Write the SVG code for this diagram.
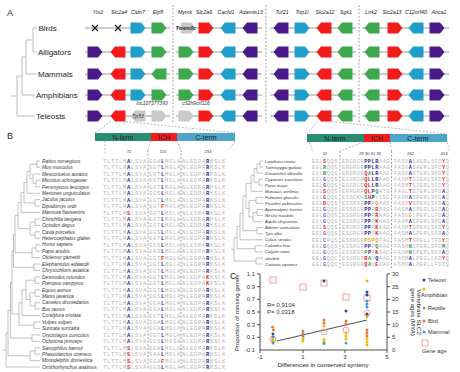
<svg xmlns="http://www.w3.org/2000/svg" width="460" height="372" viewBox="0 0 460 372">
<style>
text{font-family:"Liberation Sans",Arial,sans-serif}
.pl{font-size:9px;fill:#222}
.tx{font-size:8px;fill:#222}
.gl{font-size:5.3px;font-style:italic;fill:#222;text-anchor:middle}
.gi{font-size:5px;font-style:italic;fill:#333;text-anchor:middle}
.tr{fill:none;stroke:#bbb;stroke-width:1}
.tb{fill:none;stroke:#999;stroke-width:0.6}
.bl{stroke:#999;stroke-width:1}
.sep{stroke:#888;stroke-width:0.8;stroke-dasharray:2,1.6}
.dl{fill:none;stroke:#888;stroke-width:0.6;stroke-dasharray:2,1.5}
.pu{fill:#4a1a8a}.re{fill:#f21c1c}.cy{fill:#1e9ec8}.gr{fill:#3ea84e}.gy{fill:#c9c9c9}
.sp{font-size:4.8px;font-style:italic;fill:#333}
.spr{font-size:4.2px;font-style:italic;fill:#333}
.aln{font-family:"Liberation Mono",monospace;font-size:5.5px;letter-spacing:0.7px;fill:#b4b4b4}
.alr{font-family:"Liberation Mono",monospace;font-size:5.2px;letter-spacing:0.58px;fill:#b4b4b4}
.b{fill:#2a2a9a;font-weight:bold}.r{fill:#e41a1c;font-weight:bold}.g{fill:#2e9b3e;font-weight:bold}.o{fill:#f0a020;font-weight:bold}.p{fill:#7b5cc4;font-weight:bold}
.pos{font-size:4.2px;fill:#333;text-anchor:middle}
.dom{font-size:7px;fill:#222;text-anchor:middle}
.ax{stroke:#222;stroke-width:0.8;fill:none}
.tk{font-size:6px;fill:#333}
.at{font-size:6.2px;fill:#222;text-anchor:middle}
.lg{font-size:5.6px;fill:#333}
.sq{fill:none;stroke:#f08a8a;stroke-width:0.8}
.ci{fill:none;stroke:#f08a8a;stroke-width:0.8}
.dT{fill:#1f4e99}.dA{fill:#f5b800}.dR{fill:#9a9a9a}.dB{fill:#e8772e}.dM{fill:#3a9ad8}
</style>
<defs>
<path id="gR" d="M-7.5,-5.5H3L7.5,0L3,5.5H-7.5Z"/>
<path id="gL" d="M7.5,-5.5H-3L-7.5,0L-3,5.5H7.5Z"/>
<path id="gX" d="M-3,-3L3,3M-3,3L3,-3" stroke="#111" stroke-width="1.1" fill="none"/>
<circle id="dt" r="1.5"/>
</defs>
<rect width="460" height="372" fill="#fff"/>

<g id="panelA">
<text class="pl" x="7" y="16">A</text>
<g id="genelabels">
<text class="gl" x="98" y="13.5">Ytx2</text><text class="gl" x="119" y="13.5">Slc2a4</text><text class="gl" x="138" y="13.5">Cldn7</text><text class="gl" x="158" y="13.5">Elp5</text>
<text class="gl" x="185" y="13.5">Mymk</text><text class="gl" x="204" y="13.5">Slc2a6</text><text class="gl" x="226" y="13.5">Cacfd1</text><text class="gl" x="251" y="13.5">Adamts13</text>
<text class="gl" x="282" y="13.5">Tuf21</text><text class="gl" x="302" y="13.5">Top1l</text><text class="gl" x="325" y="13.5">Slc2a12</text><text class="gl" x="346" y="13.5">Sgk1</text>
<text class="gl" x="371" y="13.5">Lrrk2</text><text class="gl" x="392" y="13.5">Slc2a13</text><text class="gl" x="416" y="13.5">C12orf40</text><text class="gl" x="439" y="13.5">Abca2</text>
</g>
<g id="treeA">
<path class="tr" d="M37 28H33V52H37M33 40H26V74H37M26 57H22V95H35M22 76H17V116H35M11 96H17"/>
<text class="tx" x="38.5" y="31">Birds</text>
<text class="tx" x="38" y="55">Alligators</text>
<text class="tx" x="38" y="77">Mammals</text>
<text class="tx" x="36" y="98">Amphibians</text>
<text class="tx" x="36" y="119">Teleosts</text>
</g>
<g id="separators">
<line class="sep" x1="173" y1="5" x2="173" y2="124"/>
<line class="sep" x1="266" y1="5" x2="266" y2="124"/>
<line class="sep" x1="359" y1="5" x2="359" y2="124"/>
</g>
<g id="rowBirds">
<path class="bl" d="M85 28H170M176 28H262M270 28H356M362 28H449"/>
<use href="#gX" x="95" y="28"/><use href="#gX" x="118" y="28"/>
<use href="#gR" class="cy" x="138" y="28"/><use href="#gR" class="gr" x="159" y="28"/>
<use href="#gR" class="gy" x="188" y="28"/><text class="gi" x="186" y="30" font-weight="bold">Tmem8c</text>
<use href="#gR" class="re" x="206" y="28"/><use href="#gL" class="cy" x="228" y="28"/><use href="#gL" class="pu" x="250" y="28"/>
<use href="#gL" class="pu" x="281" y="28"/><use href="#gR" class="cy" x="302" y="28"/><use href="#gL" class="re" x="324" y="28"/><use href="#gL" class="gr" x="345" y="28"/>
<use href="#gL" class="gr" x="372" y="28"/><use href="#gR" class="re" x="395" y="28"/><use href="#gL" class="cy" x="416" y="28"/><use href="#gR" class="pu" x="437" y="28"/>
</g>
<g id="rowAlligators">
<path class="bl" d="M85 52H170M176 52H262M270 52H356M362 52H449"/>
<use href="#gR" class="pu" x="95" y="52"/><use href="#gL" class="re" x="118" y="52"/><use href="#gR" class="cy" x="138" y="52"/><use href="#gR" class="gr" x="159" y="52"/>
<use href="#gR" class="gr" x="186" y="52"/><use href="#gR" class="re" x="206" y="52"/><use href="#gL" class="cy" x="228" y="52"/><use href="#gL" class="pu" x="250" y="52"/>
<use href="#gL" class="pu" x="281" y="52"/><use href="#gR" class="cy" x="302" y="52"/><use href="#gL" class="re" x="324" y="52"/><use href="#gL" class="gr" x="345" y="52"/>
<use href="#gL" class="gr" x="372" y="52"/><use href="#gR" class="re" x="395" y="52"/><use href="#gL" class="cy" x="416" y="52"/><use href="#gR" class="pu" x="437" y="52"/>
</g>
<g id="rowMammals">
<path class="bl" d="M85 74H170M176 74H262M270 74H356M362 74H449"/>
<use href="#gR" class="pu" x="95" y="74"/><use href="#gL" class="re" x="118" y="74"/><use href="#gR" class="cy" x="138" y="74"/><use href="#gL" class="gr" x="159" y="74"/>
<use href="#gR" class="gr" x="186" y="74"/><use href="#gR" class="re" x="206" y="74"/><use href="#gL" class="cy" x="228" y="74"/><use href="#gL" class="pu" x="250" y="74"/>
<use href="#gL" class="pu" x="281" y="74"/><use href="#gR" class="cy" x="302" y="74"/><use href="#gL" class="re" x="324" y="74"/><use href="#gL" class="gr" x="345" y="74"/>
<use href="#gL" class="gr" x="372" y="74"/><use href="#gR" class="re" x="395" y="74"/><use href="#gL" class="cy" x="416" y="74"/><use href="#gR" class="pu" x="437" y="74"/>
</g>
<g id="rowAmphibians">
<path class="bl" d="M85 95H170M176 95H262M270 95H356M362 95H449"/>
<use href="#gR" class="pu" x="95" y="95"/><use href="#gL" class="re" x="118" y="95"/><use href="#gR" class="cy" x="138" y="95"/><use href="#gR" class="gr" x="159" y="95"/>
<use href="#gR" class="gr" x="186" y="95"/><use href="#gR" class="re" x="206" y="95"/><use href="#gL" class="cy" x="228" y="95"/><use href="#gL" class="pu" x="250" y="95"/>
<use href="#gL" class="pu" x="281" y="95"/><use href="#gR" class="cy" x="302" y="95"/><use href="#gL" class="re" x="324" y="95"/><use href="#gL" class="gr" x="345" y="95"/>
<use href="#gL" class="gr" x="372" y="95"/><use href="#gR" class="re" x="395" y="95"/><use href="#gL" class="cy" x="416" y="95"/><use href="#gR" class="pu" x="437" y="95"/>
</g>
<g id="rowTeleosts">
<path class="bl" d="M85 116H170M176 116H262M270 116H356M362 116H449"/>
<text class="gi" x="152" y="105">loc107377393</text>
<text class="gi" x="196" y="105">c32h9orf116</text>
<use href="#gR" class="pu" x="95" y="116"/><use href="#gL" class="re" x="118" y="116"/>
<use href="#gL" class="gy" x="138" y="116"/><text class="gi" x="138" y="118">Tp53</text>
<use href="#gR" class="gy" x="159" y="116"/>
<use href="#gR" class="gy" x="186" y="116"/><use href="#gR" class="re" x="206" y="116"/><use href="#gL" class="cy" x="228" y="116"/><use href="#gL" class="pu" x="250" y="116"/>
<use href="#gL" class="pu" x="281" y="116"/><use href="#gR" class="cy" x="302" y="116"/><use href="#gL" class="re" x="324" y="116"/><use href="#gL" class="gr" x="345" y="116"/>
<use href="#gL" class="gr" x="372" y="116"/><use href="#gR" class="re" x="395" y="116"/><use href="#gL" class="cy" x="416" y="116"/><use href="#gR" class="pu" x="437" y="116"/>
</g>
</g>

<g id="connectors">
<path class="dl" d="M111 121.5L95 133M126 121.5L235 133"/>
<path class="dl" d="M317 121.5L307 134M332 121.5L447 134"/>
<path class="dl" d="M105 141V153M151 141L148 150M177 141L181 150M235 141L229 150"/>
<path class="dl" d="M309 142L313 152M364 142L340 151M390 142L391.5 151M447 142L450 152"/>
<line class="sep" x1="148" y1="150" x2="148" y2="370"/>
<line class="sep" x1="181" y1="150" x2="181" y2="370"/>
<line class="sep" x1="340" y1="151" x2="340" y2="268"/>
<line class="sep" x1="391.5" y1="151" x2="391.5" y2="268"/>
</g>

<g id="panelB">
<text class="pl" x="7" y="139">B</text>
<g id="domainLeft">
<rect x="95" y="133" width="56" height="8" fill="#2a8f72"/>
<rect x="151" y="133" width="26" height="8" fill="#f21c1c"/>
<rect x="177" y="133" width="58" height="8" fill="#4da6c9"/>
<text class="dom" x="123" y="139.5">N-term</text><text class="dom" x="164" y="139.5">ICH</text><text class="dom" x="206" y="139.5">C-term</text>
</g>
<g id="domainRight">
<rect x="307" y="134" width="57" height="8" fill="#2a8f72"/>
<rect x="364" y="134" width="26" height="8" fill="#f21c1c"/>
<rect x="390" y="134" width="57" height="8" fill="#4da6c9"/>
<text class="dom" x="335" y="140.5">N-term</text><text class="dom" x="377" y="140.5">ICH</text><text class="dom" x="418" y="140.5">C-term</text>
</g>
<g id="positions">
<text class="pos" x="129" y="153">72</text><text class="pos" x="163" y="153">110</text><text class="pos" x="208" y="153">234</text>
<text class="pos" x="325" y="155">11</text><text class="pos" x="370" y="155" font-size="3.4">29 30 31 36</text><text class="pos" x="410.6" y="155">262</text><text class="pos" x="444" y="155">413</text>
</g>
<g id="treeMammals">
<path class="tb" d="M40 161H37V167.4H40M40 180.3H36V186.8H40M40 173.9H33V183.6H36M37 164.2H30V178.7H33M30 171.5H27V193.2H40M40 199.6H35V206.1H40M27 182.3H24V202.9H35M24 192.6H21V212.5H40M40 219H35V225.4H40M40 231.8H35V238.3H40M35 222.2H30V235H35M21 202.6H18V228.6H30M40 244.7H36V251.2H40M36 248H32V257.6H40M18 215.6H15V252.8H32M40 264H34V270.5H40M15 234.2H13.5V267.3H34M40 276.9H35V283.4H40M40 289.8H35V296.2H40M40 302.7H35V309.1H40M35 293H30V305.9H35M35 280.2H26V299.5H30M26 289.8H22V315.6H40M40 322H34V328.4H40M22 302.7H19V325.2H34M13.5 250.8H12V314H19M40 334.9H32V341.3H40M12 282.4H10.5V338.1H32M40 347.8H35V354.2H40M35 351H30V360.6H40M10.5 310.3H8V355.8H30M8 333H6V367H40M3 350H6"/>
</g>
<g id="namesMammals">
<text class="sp" x="42" y="162.7">Rattus norvegicus</text>
<text class="sp" x="42" y="169.1">Mus musculus</text>
<text class="sp" x="42" y="175.6">Mesocricetus auratus</text>
<text class="sp" x="42" y="182">Microtus ochrogaster</text>
<text class="sp" x="42" y="188.5">Peromyscus leucopus</text>
<text class="sp" x="42" y="194.9">Meriones unguiculatus</text>
<text class="sp" x="42" y="201.3">Jaculus jaculus</text>
<text class="sp" x="42" y="207.8">Dipodomys ordii</text>
<text class="sp" x="42" y="214.2">Marmota flaviventris</text>
<text class="sp" x="42" y="220.7">Chinchilla lanigera</text>
<text class="sp" x="42" y="227.1">Octodon degus</text>
<text class="sp" x="42" y="233.5">Cavia porcellus</text>
<text class="sp" x="42" y="240">Heterocephalus glaber</text>
<text class="sp" x="42" y="246.4">Homo sapiens</text>
<text class="sp" x="42" y="252.9">Papio anubis</text>
<text class="sp" x="42" y="259.3">Otolemur garnettii</text>
<text class="sp" x="42" y="265.7">Elephantulus edwardii</text>
<text class="sp" x="42" y="272.2">Chrysochloris asiatica</text>
<text class="sp" x="42" y="278.6">Desmodus rotundus</text>
<text class="sp" x="42" y="285.1">Pteropus vampyrus</text>
<text class="sp" x="42" y="291.5">Equus asinus</text>
<text class="sp" x="42" y="297.9">Manis javanica</text>
<text class="sp" x="42" y="304.4">Camelus dromedarius</text>
<text class="sp" x="42" y="310.8">Bos taurus</text>
<text class="sp" x="42" y="317.3">Condylura cristata</text>
<text class="sp" x="42" y="323.7">Vulpes vulpes</text>
<text class="sp" x="42" y="330.1">Suricata suricatta</text>
<text class="sp" x="42" y="336.6">Oryctolagus cuniculus</text>
<text class="sp" x="42" y="343">Ochotona princeps</text>
<text class="sp" x="42" y="349.5">Sarcophilus harrisii</text>
<text class="sp" x="42" y="355.9">Phascolarctos cinereus</text>
<text class="sp" x="42" y="362.3">Monodelphis domestica</text>
<text class="sp" x="42" y="368.7">Ornithorhynchus anatinus</text>
</g>
<g id="alignMammals">
<text class="aln" y="163"><tspan x="103">TLTTLM<tspan class="b">A</tspan>LSVA</tspan><tspan x="149">GGA<tspan class="b">L</tspan>MGLA</tspan><tspan x="182">NLEDPA<tspan class="b">R</tspan>KSLK</tspan></text>
<text class="aln" y="169.4"><tspan x="103">TLTTLM<tspan class="b">A</tspan>LSVA</tspan><tspan x="149">GGT<tspan class="b">L</tspan>MGLA</tspan><tspan x="182">NLEDPA<tspan class="b">R</tspan>KSLK</tspan></text>
<text class="aln" y="175.9"><tspan x="103">TLTTLM<tspan class="b">A</tspan>LSVA</tspan><tspan x="149">GGT<tspan class="b">L</tspan>MGLA</tspan><tspan x="182">NLEDPA<tspan class="b">R</tspan>KSLK</tspan></text>
<text class="aln" y="182.3"><tspan x="103">TLTTLM<tspan class="b">A</tspan>LSVA</tspan><tspan x="149">GGT<tspan class="b">L</tspan>MGLA</tspan><tspan x="182">NLEDPA<tspan class="b">R</tspan>KSLK</tspan></text>
<text class="aln" y="188.8"><tspan x="103">TLTTLM<tspan class="b">A</tspan>LSVA</tspan><tspan x="149">GGT<tspan class="b">L</tspan>MGLA</tspan><tspan x="182">NLEDPA<tspan class="b">R</tspan>KSLK</tspan></text>
<text class="aln" y="195.2"><tspan x="103">TLTTLM<tspan class="b">A</tspan>LSVA</tspan><tspan x="149">GGS<tspan class="b">L</tspan>MGLA</tspan><tspan x="182">NLEDPA<tspan class="b">R</tspan>KSLK</tspan></text>
<text class="aln" y="201.6"><tspan x="103">TLTTLM<tspan class="b">A</tspan>LSVA</tspan><tspan x="149">GGT<tspan class="b">L</tspan>MGLA</tspan><tspan x="182">NLEDPA<tspan class="b">R</tspan>KSLK</tspan></text>
<text class="aln" y="208.1"><tspan x="103">TLTTLM<tspan class="b">A</tspan>LSVA</tspan><tspan x="149">GGT<tspan class="r">F</tspan>MGLA</tspan><tspan x="182">NLEDPA<tspan class="b">R</tspan>KSLK</tspan></text>
<text class="aln" y="214.5"><tspan x="103">TLTTLM<tspan class="r">S</tspan>LSVA</tspan><tspan x="149">GGT<tspan class="b">L</tspan>MGLA</tspan><tspan x="182">NLEDPA<tspan class="b">R</tspan>KSLK</tspan></text>
<text class="aln" y="221"><tspan x="103">TLTTLM<tspan class="b">A</tspan>LSVA</tspan><tspan x="149">GGT<tspan class="b">L</tspan>MGLA</tspan><tspan x="182">NLEDPA<tspan class="b">R</tspan>KSLK</tspan></text>
<text class="aln" y="227.4"><tspan x="103">TLTTLM<tspan class="b">A</tspan>LSVA</tspan><tspan x="149">GGT<tspan class="b">L</tspan>MGLA</tspan><tspan x="182">NLEDPA<tspan class="b">R</tspan>KSLK</tspan></text>
<text class="aln" y="233.8"><tspan x="103">TLTTLM<tspan class="b">A</tspan>LSVA</tspan><tspan x="149">GGS<tspan class="b">L</tspan>MGLA</tspan><tspan x="182">NLEDPA<tspan class="b">R</tspan>KSLK</tspan></text>
<text class="aln" y="240.3"><tspan x="103">TLTTLM<tspan class="b">A</tspan>LSVA</tspan><tspan x="149">GGT<tspan class="b">L</tspan>MGLA</tspan><tspan x="182">NLEDPA<tspan class="b">R</tspan>KSLK</tspan></text>
<text class="aln" y="246.7"><tspan x="103">TLTTLM<tspan class="b">A</tspan>LSVA</tspan><tspan x="149">GGS<tspan class="b">L</tspan>MGLA</tspan><tspan x="182">NLEDPA<tspan class="b">R</tspan>KSLK</tspan></text>
<text class="aln" y="253.2"><tspan x="103">TLTTLM<tspan class="b">A</tspan>LSVA</tspan><tspan x="149">GAS<tspan class="b">L</tspan>MGLA</tspan><tspan x="182">NLEDPA<tspan class="b">R</tspan>KSLK</tspan></text>
<text class="aln" y="259.6"><tspan x="103">TLTTLM<tspan class="b">A</tspan>LSVA</tspan><tspan x="149">GGT<tspan class="r">F</tspan>MGLA</tspan><tspan x="182">NLEDPA<tspan class="b">R</tspan>KSLK</tspan></text>
<text class="aln" y="266"><tspan x="103">TLTTLM<tspan class="b">A</tspan>LSVA</tspan><tspan x="149">GGT<tspan class="b">L</tspan>MGLA</tspan><tspan x="182">NLEDPA<tspan class="b">R</tspan>KSLK</tspan></text>
<text class="aln" y="272.5"><tspan x="103">TLTTLM<tspan class="b">A</tspan>LSVA</tspan><tspan x="149">GGT<tspan class="b">L</tspan>MGLA</tspan><tspan x="182">NLEDPA<tspan class="b">R</tspan>KSLK</tspan></text>
<text class="aln" y="278.9"><tspan x="103">TLTTLM<tspan class="b">A</tspan>LSVA</tspan><tspan x="149">GGT<tspan class="b">L</tspan>MGLA</tspan><tspan x="182">NLEDPA<tspan class="r">K</tspan>KSLK</tspan></text>
<text class="aln" y="285.4"><tspan x="103">TLTTLM<tspan class="b">A</tspan>LSVA</tspan><tspan x="149">GGT<tspan class="b">L</tspan>MGLA</tspan><tspan x="182">NLEDPA<tspan class="r">K</tspan>KSLK</tspan></text>
<text class="aln" y="291.8"><tspan x="103">TLTTLM<tspan class="b">A</tspan>LSVA</tspan><tspan x="149">GGT<tspan class="b">L</tspan>MGLA</tspan><tspan x="182">NLEDPA<tspan class="b">R</tspan>KSLK</tspan></text>
<text class="aln" y="298.2"><tspan x="103">TLTTLM<tspan class="b">A</tspan>LSVA</tspan><tspan x="149">GGS<tspan class="b">L</tspan>MGLA</tspan><tspan x="182">NLEDPA<tspan class="b">R</tspan>KSLK</tspan></text>
<text class="aln" y="304.7"><tspan x="103">TLTTLM<tspan class="b">A</tspan>LSVA</tspan><tspan x="149">GGA<tspan class="b">L</tspan>MGLA</tspan><tspan x="182">NLEDPA<tspan class="b">R</tspan>KSLK</tspan></text>
<text class="aln" y="311.1"><tspan x="103">TLTTLM<tspan class="b">A</tspan>LSVA</tspan><tspan x="149">GGA<tspan class="b">L</tspan>MGLA</tspan><tspan x="182">NLEDPA<tspan class="b">R</tspan>KSLK</tspan></text>
<text class="aln" y="317.6"><tspan x="103">TLTTLM<tspan class="b">A</tspan>LSVA</tspan><tspan x="149">GGT<tspan class="b">L</tspan>MGLA</tspan><tspan x="182">NLEDPA<tspan class="b">R</tspan>KSLK</tspan></text>
<text class="aln" y="324"><tspan x="103">TLTTLM<tspan class="b">A</tspan>LSVA</tspan><tspan x="149">GGA<tspan class="b">L</tspan>MGLA</tspan><tspan x="182">NLEDPA<tspan class="b">R</tspan>KSLK</tspan></text>
<text class="aln" y="330.4"><tspan x="103">TLTTLM<tspan class="b">A</tspan>LSVA</tspan><tspan x="149">GGA<tspan class="b">L</tspan>MGLA</tspan><tspan x="182">NLEDPA<tspan class="b">R</tspan>KSLK</tspan></text>
<text class="aln" y="336.9"><tspan x="103">TLTTLM<tspan class="b">A</tspan>LSVA</tspan><tspan x="149">GGT<tspan class="b">L</tspan>MGLA</tspan><tspan x="182">NLEDPA<tspan class="b">R</tspan>KSLK</tspan></text>
<text class="aln" y="343.3"><tspan x="103">TLTTLM<tspan class="b">A</tspan>LSVA</tspan><tspan x="149">GGS<tspan class="b">L</tspan>MGSA</tspan><tspan x="182">NLEDPA<tspan class="b">R</tspan>KSLK</tspan></text>
<text class="aln" y="349.8"><tspan x="103">TLTTLM<tspan class="r">S</tspan>LSVA</tspan><tspan x="149">GGA<tspan class="b">L</tspan>MGLA</tspan><tspan x="182">NLEDPA<tspan class="b">R</tspan>KSLK</tspan></text>
<text class="aln" y="356.2"><tspan x="103">TLTTLM<tspan class="r">S</tspan>LSVA</tspan><tspan x="149">GAA<tspan class="b">L</tspan>MGLA</tspan><tspan x="182">NLEDPA<tspan class="b">R</tspan>KSLK</tspan></text>
<text class="aln" y="362.6"><tspan x="103">TLTTLM<tspan class="r">S</tspan>LSVA</tspan><tspan x="149">GGA<tspan class="r">F</tspan>MGLA</tspan><tspan x="182">NLEDPA<tspan class="b">R</tspan>KSLK</tspan></text>
<text class="aln" y="369"><tspan x="103">TLTTLM<tspan class="r">S</tspan>LSVA</tspan><tspan x="149">GGS<tspan class="b">L</tspan>MGLA</tspan><tspan x="182">NLEDPA<tspan class="b">R</tspan>KSLK</tspan></text>
</g>
<g id="treeBirds">
<path class="tb" d="M263 161H260V167.1H263M260 164H257V173.1H263M263 179.2H259V185.2H263M257 168.6H254V182.2H259M254 175.4H251V191.3H263M263 197.4H256V203.4H263M263 209.5H257V215.5H263M257 212.5H253V221.6H263M256 200.4H249V217H253M251 183.4H246V208.7H249M263 227.7H257V233.7H263M246 196H243V230.7H257M243 213.4H240V239.8H263M263 245.8H255V251.9H263M240 226.6H237V248.8H255M263 258H256V264H263M237 237.7H234V261H256M231 249.4H234"/>
</g>
<g id="namesBirds">
<text class="spr" x="265" y="162.5">Lonchura striata</text>
<text class="spr" x="265" y="168.6">Taeniopygia guttata</text>
<text class="spr" x="265" y="174.6">Zonotrichia albicollis</text>
<text class="spr" x="265" y="180.7">Cyanistes caeruleus</text>
<text class="spr" x="265" y="186.7">Parus major</text>
<text class="spr" x="265" y="192.8">Manacus vitellinus</text>
<text class="spr" x="265" y="198.9">Fulmarus glacialis</text>
<text class="spr" x="265" y="204.9">Picoides pubescens</text>
<text class="spr" x="265" y="211">Aptenodytes forsteri</text>
<text class="spr" x="265" y="217">Nestor notabilis</text>
<text class="spr" x="265" y="223.1">Aquila chrysaetos</text>
<text class="spr" x="265" y="229.2">Athene cunicularia</text>
<text class="spr" x="265" y="235.2">Tyto alba</text>
<text class="spr" x="265" y="241.3">Colius striatus</text>
<text class="spr" x="265" y="247.3">Columba livia</text>
<text class="spr" x="265" y="253.4">Calypte anna</text>
<text class="spr" x="265" y="259.5">chicken</text>
<text class="spr" x="265" y="265.5">Coturnix japonica</text>
</g>
<g id="alignBirds">
<text class="alr" y="162.8"><tspan x="312">EGL<tspan class="r">S</tspan>QQS</tspan><tspan x="342">ERGRGR<tspan class="b">PPLR</tspan>AAG</tspan><tspan x="394">FASV<tspan class="b">A</tspan>SAERLSFD<tspan class="r">Y</tspan>Q</tspan></text>
<text class="alr" y="168.8"><tspan x="312">EGL<tspan class="g">R</tspan>QQS</tspan><tspan x="342">ERGRGR<tspan class="b">PPLR</tspan>AAG</tspan><tspan x="394">FASV<tspan class="b">A</tspan>SAERLSFD<tspan class="r">Y</tspan>Q</tspan></text>
<text class="alr" y="174.9"><tspan x="312">EGL<tspan class="g">R</tspan>QQS</tspan><tspan x="342">ERGRGR<tspan class="r">Q</tspan><tspan class="g">A</tspan><tspan class="b">LR</tspan>AAG</tspan><tspan x="394">FASF<tspan class="b">A</tspan>STERLSFD<tspan class="r">Y</tspan>Q</tspan></text>
<text class="alr" y="180.9"><tspan x="312">EGL<tspan class="p">G</tspan>QQS</tspan><tspan x="342">EGGRGR<tspan class="r">QL</tspan><tspan class="b">LR</tspan>AAG</tspan><tspan x="394">FASM<tspan class="r">T</tspan>SIERLSFD<tspan class="r">Y</tspan>Q</tspan></text>
<text class="alr" y="187"><tspan x="312">EGL<tspan class="p">G</tspan>QQS</tspan><tspan x="342">EGGRGR<tspan class="r">QL</tspan><tspan class="b">LR</tspan>AAG</tspan><tspan x="394">FASM<tspan class="r">T</tspan>SIERLSFD<tspan class="r">Y</tspan>Q</tspan></text>
<text class="alr" y="193"><tspan x="312">EGL<tspan class="r">S</tspan>QQS</tspan><tspan x="342">ERRGRR<tspan class="r">QL</tspan><tspan class="b">P</tspan><tspan class="g">Q</tspan>ATG</tspan><tspan x="394">FAGL<tspan class="r">T</tspan>STERLSFD<tspan class="b">A</tspan>Q</tspan></text>
<text class="alr" y="199.1"><tspan x="312">EGL<tspan class="p">G</tspan>QQS</tspan><tspan x="342">ESSCKK<tspan class="g">S</tspan><tspan class="r">H</tspan><tspan class="b">P</tspan>VISG</tspan><tspan x="394">FASM<tspan class="b">A</tspan>SPERLSFD<tspan class="b">A</tspan>Q</tspan></text>
<text class="alr" y="205.1"><tspan x="312">EGL<tspan class="r">D</tspan>QQS</tspan><tspan x="342">ESSRSR<tspan class="b">PP</tspan>P<tspan class="o">Q</tspan>AAG</tspan><tspan x="394">FASV<tspan class="r">V</tspan>SPERLSFD<tspan class="b">A</tspan>Q</tspan></text>
<text class="alr" y="211.2"><tspan x="312">EGL<tspan class="p">G</tspan>QQS</tspan><tspan x="342">ESSRGR<tspan class="b">PP</tspan>P<tspan class="r">R</tspan>AAG</tspan><tspan x="394">FASM<tspan class="b">A</tspan>SPERLSFD<tspan class="b">A</tspan>Q</tspan></text>
<text class="alr" y="217.2"><tspan x="312">EGL<tspan class="p">G</tspan>QQS</tspan><tspan x="342">ESSRGR<tspan class="b">PP</tspan>P<tspan class="r">R</tspan>AAG</tspan><tspan x="394">FASV<tspan class="o">G</tspan>LPERLLFD<tspan class="b">A</tspan>Q</tspan></text>
<text class="alr" y="223.3"><tspan x="312">EGL<tspan class="p">G</tspan>QQS</tspan><tspan x="342">ESSRGR<tspan class="b">PP</tspan>P<tspan class="r">K</tspan>AAG</tspan><tspan x="394">FASM<tspan class="b">A</tspan>SPERLSFD<tspan class="b">A</tspan>Q</tspan></text>
<text class="alr" y="229.4"><tspan x="312">EGL<tspan class="r">S</tspan>QQS</tspan><tspan x="342">ERGRGR<tspan class="b">PP</tspan>P<tspan class="r">K</tspan>AAG</tspan><tspan x="394">FASM<tspan class="r">T</tspan>SPERLSFD<tspan class="r">Y</tspan>Q</tspan></text>
<text class="alr" y="235.4"><tspan x="312">EGL<tspan class="p">G</tspan>QQS</tspan><tspan x="342">ESGRGR<tspan class="b">PP</tspan>P<tspan class="r">K</tspan>AAG</tspan><tspan x="394">FASM<tspan class="b">A</tspan>SPERLSFD<tspan class="b">A</tspan>Q</tspan></text>
<text class="alr" y="241.5"><tspan x="312">EEL<tspan class="p">C</tspan>RQS</tspan><tspan x="342">ESSRGR<tspan class="o">PSPQ</tspan>TAG</tspan><tspan x="394">FASM<tspan class="r">T</tspan>SPELLTFD<tspan class="r">Y</tspan>Q</tspan></text>
<text class="alr" y="247.5"><tspan x="312">EGL<tspan class="p">G</tspan>QQS</tspan><tspan x="342">ESSRGR<tspan class="b">PP</tspan>P<tspan class="g">Q</tspan>AAG</tspan><tspan x="394">FASM<tspan class="g">N</tspan>SPERLSFD<tspan class="g">M</tspan>Q</tspan></text>
<text class="alr" y="253.6"><tspan x="312">EGL<tspan class="p">G</tspan>QQS</tspan><tspan x="342">ESSRGR<tspan class="g">P</tspan><tspan class="b">P</tspan>P<tspan class="r">K</tspan>AAG</tspan><tspan x="394">FASM<tspan class="g">N</tspan>SPERLSFD<tspan class="b">A</tspan>Q</tspan></text>
<text class="alr" y="259.7"><tspan x="312">EEL<tspan class="p">G</tspan>QQC</tspan><tspan x="342">ESGRGR<tspan class="r">R</tspan><tspan class="g">A</tspan>V<tspan class="b">Q</tspan>AAG</tspan><tspan x="394">FASM<tspan class="b">A</tspan>LPEGLLFD<tspan class="r">Y</tspan>Q</tspan></text>
<text class="alr" y="265.7"><tspan x="312">EEL<tspan class="p">G</tspan>QQC</tspan><tspan x="342">EGGRGR<tspan class="r">Q</tspan><tspan class="g">A</tspan>V<tspan class="r">E</tspan>AAG</tspan><tspan x="394">FSNV<tspan class="b">A</tspan>LPERLLFDIQ</tspan></text>
</g>
</g>

<g id="panelC">
<text class="pl" x="230" y="279">C</text>
<path class="ax" d="M260 274V350H387V274"/>
<path class="ax" d="M257 274H260M257 286.7H260M257 299.3H260M257 312H260M257 324.7H260M257 337.3H260M387 286.7H390M387 299.3H390M387 312H390M387 324.7H390M387 337.3H390M387 274H390M260 350V353M303 350V353M345 350V353M387 350V353"/>
<g id="leftTicks">
<text class="tk" x="255" y="276" text-anchor="end">1.1</text>
<text class="tk" x="255" y="288.7" text-anchor="end">0.9</text>
<text class="tk" x="255" y="301.3" text-anchor="end">0.7</text>
<text class="tk" x="255" y="314" text-anchor="end">0.5</text>
<text class="tk" x="255" y="326.7" text-anchor="end">0.3</text>
<text class="tk" x="255" y="339.3" text-anchor="end">0.1</text>
<text class="tk" x="255" y="352" text-anchor="end">-0.1</text>
</g>
<g id="rightTicks">
<text class="tk" x="392" y="276">30</text>
<text class="tk" x="392" y="288.7">25</text>
<text class="tk" x="392" y="301.3">20</text>
<text class="tk" x="392" y="314">15</text>
<text class="tk" x="392" y="326.7">10</text>
<text class="tk" x="392" y="339.3">5</text>
<text class="tk" x="392" y="352">0</text>
</g>
<g id="xTicks">
<text class="tk" x="260" y="359" text-anchor="middle">-1</text>
<text class="tk" x="303" y="359" text-anchor="middle">1</text>
<text class="tk" x="345" y="359" text-anchor="middle">3</text>
<text class="tk" x="387" y="359" text-anchor="middle">5</text>
</g>
<text class="at" transform="translate(239 313) rotate(-90)">Proportion of missing genes</text>
<text class="at" x="323" y="366.5">Differences in conserved synteny</text>
<g transform="translate(412 312) rotate(90)">
<text class="at" x="0" y="-5">Vertebrate SLC2</text>
<text class="at" x="0" y="1.5">gene ages (MYA)</text>
</g>
<text class="tk" x="267" y="307">R= 0.9104</text>
<text class="tk" x="267" y="314">P= 0.0318</text>
<line x1="277" y1="341" x2="367" y2="320" stroke="#222" stroke-width="0.8"/>
<g id="geneAges">
<rect class="sq" x="270" y="277" width="6" height="6"/><rect class="sq" x="300" y="284" width="6" height="6"/><rect class="sq" x="321" y="280" width="6" height="6"/><rect class="sq" x="343" y="294" width="6" height="6"/><rect class="sq" x="364" y="295" width="6" height="6"/>
<circle class="ci" cx="273" cy="339" r="3"/><circle class="ci" cx="324" cy="332" r="3"/><circle class="ci" cx="346" cy="330" r="3"/><circle class="ci" cx="367" cy="313" r="3"/>
</g>
<g id="points">
<use href="#dt" class="dB" x="272.5" y="327"/><use href="#dt" class="dB" x="273.5" y="330"/><use href="#dt" class="dT" x="273" y="334"/><use href="#dt" class="dM" x="273" y="337"/><use href="#dt" class="dA" x="272.5" y="339.5"/><use href="#dt" class="dA" x="273.5" y="341.5"/><use href="#dt" class="dM" x="273" y="343"/>
<use href="#dt" class="dB" x="303" y="331"/><use href="#dt" class="dB" x="303" y="333.5"/><use href="#dt" class="dM" x="303" y="336"/><use href="#dt" class="dA" x="303" y="338.5"/><use href="#dt" class="dA" x="303" y="341"/>
<use href="#dt" class="dT" x="324" y="281"/><use href="#dt" class="dB" x="324" y="320"/><use href="#dt" class="dB" x="324" y="323"/><use href="#dt" class="dA" x="324" y="326"/><use href="#dt" class="dA" x="324" y="339.5"/><use href="#dt" class="dA" x="324" y="341.5"/><use href="#dt" class="dM" x="324" y="343.5"/>
<use href="#dt" class="dT" x="346" y="311"/><use href="#dt" class="dB" x="346" y="321"/><use href="#dt" class="dB" x="346" y="324"/><use href="#dt" class="dA" x="346" y="333"/><use href="#dt" class="dA" x="346" y="336"/><use href="#dt" class="dA" x="346" y="339"/><use href="#dt" class="dM" x="346" y="343"/>
<use href="#dt" class="dA" x="367" y="281"/><use href="#dt" class="dT" x="367" y="292"/><use href="#dt" class="dT" x="367" y="295"/><use href="#dt" class="dM" x="367" y="301"/><use href="#dt" class="dM" x="367" y="304"/><use href="#dt" class="dM" x="367" y="307"/><use href="#dt" class="dT" x="367" y="314"/><use href="#dt" class="dA" x="367" y="317"/><use href="#dt" class="dB" x="367" y="330"/><use href="#dt" class="dB" x="367" y="333"/><use href="#dt" class="dB" x="367" y="336"/><use href="#dt" class="dA" x="367" y="339"/><use href="#dt" class="dA" x="367" y="342"/><use href="#dt" class="dA" x="367" y="345"/>
</g>
<g id="legend">
<use href="#dt" class="dT" x="424" y="280"/><text class="lg" x="428" y="282">Teleost</text>
<use href="#dt" class="dA" x="424" y="289"/><text class="lg" x="421" y="297">Amphibian</text>
<use href="#dt" class="dR" x="424" y="308"/><text class="lg" x="428" y="310">Reptile</text>
<use href="#dt" class="dB" x="424" y="321"/><text class="lg" x="428" y="323">Bird</text>
<use href="#dt" class="dM" x="424" y="332"/><text class="lg" x="428" y="334">Mammal</text>
<rect class="sq" x="422" y="340" width="6" height="6"/><text class="lg" x="422" y="353">Gene age</text>
</g>
</g>
</svg>
